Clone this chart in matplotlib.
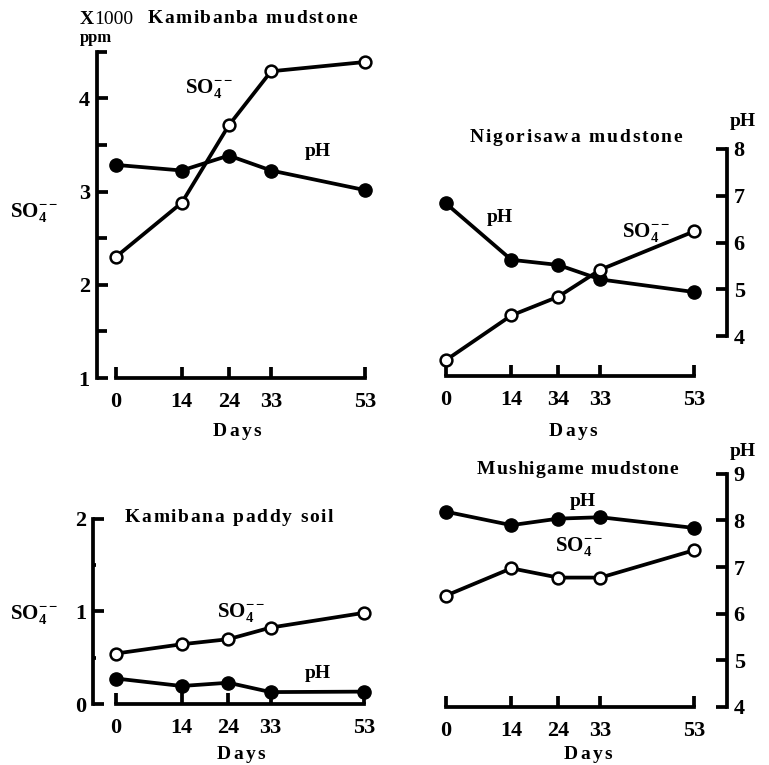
import matplotlib.pyplot as plt

# 字型：粗體襯線，近似原圖的印刷字
plt.rcParams['font.family'] = ['Liberation Serif', 'DejaVu Serif']
plt.rcParams['font.weight'] = 'bold'
plt.rcParams['mathtext.fontset'] = 'custom'
plt.rcParams['mathtext.rm'] = 'Liberation Serif:bold'
plt.rcParams['mathtext.it'] = 'Liberation Serif:bold'
plt.rcParams['mathtext.bf'] = 'Liberation Serif:bold'

# 資料
days = [0, 14, 24, 33, 53]
day_labels = ['0', '14', '24', '33', '53']
day_labels_nigorisawa = ['0', '14', '34', '33', '53']  # as printed

kamibanba_so4 = [2.30, 2.88, 3.71, 4.29, 4.39]
kamibanba_ph = [7.66, 7.54, 7.86, 7.54, 7.12]
nigorisawa_so4 = [1.20, 1.68, 1.88, 2.17, 2.58]
nigorisawa_ph = [6.84, 5.63, 5.52, 5.21, 4.94]
paddy_so4 = [0.545, 0.645, 0.70, 0.825, 0.985]
paddy_ph = [4.63, 4.47, 4.54, 4.34, 4.35]
mushigame_so4 = [1.175, 1.47, 1.37, 1.37, 1.665]
mushigame_ph = [8.19, 7.90, 8.04, 8.07, 7.84]

W, H = 769, 765
fig = plt.figure(figsize=(W / 100, H / 100), dpi=100)
LW = 2.7
TICK_FS = 16
SO4 = r'SO$_4^{--}$'


def make_panel(x_left, x_right, y_top, y_bot, day0_px, px_day, so4_ref, ph_ref):
    ax = fig.add_axes([x_left / W, 1 - y_bot / H, (x_right - x_left) / W, (y_bot - y_top) / H])
    ax.set_xlim((x_left - day0_px) / px_day, (x_right - day0_px) / px_day)
    p0, v0, k = so4_ref
    ax.set_ylim(v0 + (p0 - y_bot) / k, v0 + (p0 - y_top) / k)
    axp = ax.twinx()
    p0, v0, k = ph_ref
    axp.set_ylim(v0 + (p0 - y_bot) / k, v0 + (p0 - y_top) / k)
    for a in (ax, axp):
        for s in a.spines.values():
            s.set_visible(False)
            s.set_linewidth(LW)
        a.patch.set_visible(False)
    ax.set_zorder(axp.get_zorder() + 1)
    ax.spines['bottom'].set_visible(True)
    ax.spines['bottom'].set_bounds(0, 53)
    ax.set_xticks(days)
    ax.tick_params(axis='x', direction='in', length=8, width=LW, pad=10, labelsize=TICK_FS)
    return ax, axp


def plot_series(ax, axp, so4, ph):
    axp.plot(days, ph, color='black', lw=LW, marker='o', ms=9.5, mfc='black', mec='black',
             clip_on=False)
    ax.plot(days, so4, color='black', lw=LW, marker='o', ms=8.5, mfc='white', mec='black',
            mew=1.8, clip_on=False)


def text(x, y, s, size, **kw):
    kw.setdefault('fontweight', 'bold')
    fig.text(x / W, 1 - y / H, s, fontsize=size, **kw)


def spaced(x, y, s, size, track):
    # 字距加寬的標題
    r = fig.canvas.get_renderer()
    cx = x
    for ch in s:
        if ch == ' ':
            cx += size * 0.25 * 100 / 72 + track * 1.5
            continue
        t = fig.text(cx / W, 1 - y / H, ch, fontsize=size, fontweight='bold',
                     ha='left', va='baseline')
        cx += t.get_window_extent(r).width + track


def left_axis(ax, lo, hi, major, minor, minor_len):
    ax.spines['left'].set_visible(True)
    ax.spines['left'].set_bounds(lo, hi)
    ax.set_yticks(major)
    ax.set_yticks(minor, minor=True)
    ax.tick_params(axis='y', which='major', direction='in', length=8, width=LW, pad=5,
                   labelsize=TICK_FS)
    ax.tick_params(axis='y', which='minor', direction='in', length=minor_len, width=LW)


def right_axis(axp, lo, hi, major):
    axp.spines['right'].set_visible(True)
    axp.spines['right'].set_bounds(lo, hi)
    axp.set_yticks(major)
    axp.tick_params(axis='y', direction='in', length=8, width=LW, pad=5, labelsize=TICK_FS)


# 1. Kamibanba mudstone
ax0, ax0p = make_panel(96.7, 380, 40, 378, 116, 4.70, (379, 1, 93.5), (336, 4, 46.75))
plot_series(ax0, ax0p, kamibanba_so4, kamibanba_ph)
ax0.set_xticklabels(day_labels)
left_axis(ax0, 1, 4.5, [1, 2, 3, 4], [1.5, 2.5, 3.5, 4.5], 7)
ax0p.set_yticks([])

# 2. Nigorisawa mudstone
ax1, ax1p = make_panel(420, 726.7, 40, 376, 445.7, 4.69, (379, 1, 93.5), (336, 4, 46.75))
plot_series(ax1, ax1p, nigorisawa_so4, nigorisawa_ph)
ax1.set_xticklabels(day_labels_nigorisawa)
ax1.set_yticks([])
right_axis(ax1p, 4, 8, [4, 5, 6, 7, 8])

# 3. Kamibana paddy soil
ax2, ax2p = make_panel(93, 380, 470, 704, 116, 4.685, (705, 0, 93), (708, 4, 46.8))
plot_series(ax2, ax2p, paddy_so4, paddy_ph)
ax2.set_xticklabels(day_labels)
left_axis(ax2, 0, 2, [0, 1, 2], [0.5, 1.5], 2)
ax2p.set_yticks([])

# 4. Mushigame mudstone
ax3, ax3p = make_panel(420, 726.7, 440, 707, 445.7, 4.69, (705, 0, 93), (708, 4, 46.8))
plot_series(ax3, ax3p, mushigame_so4, mushigame_ph)
ax3.set_xticklabels(day_labels)
ax3.set_yticks([])
right_axis(ax3p, 4, 9, [4, 5, 6, 7, 8, 9])

# 標題與標籤
spaced(148, 23, 'Kamibanba mudstone', 14, 1.4)
spaced(470, 142, 'Nigorisawa mudstone', 14, 1.7)
spaced(125, 522, 'Kamibana paddy soil', 14, 1.6)
spaced(477, 474, 'Mushigame mudstone', 14, 1.0)

text(80, 24, 'X', 14, ha='left', va='baseline')
text(94, 24, '1000', 14, ha='left', va='baseline', fontweight='normal')
text(80, 38, 'ppm', 12, ha='left', va='center')
text(10, 212, SO4, 15, ha='left', va='center')
text(10, 614, SO4, 15, ha='left', va='center')
text(730, 122, 'pH', 14, ha='left', va='center')
text(730, 452, 'pH', 14, ha='left', va='center')

text(185, 88, SO4, 15, ha='left', va='center')
text(305, 151, 'pH', 14, ha='left', va='center')
text(487, 217, 'pH', 14, ha='left', va='center')
text(622, 232, SO4, 15, ha='left', va='center')
text(217, 612, SO4, 15, ha='left', va='center')
text(305, 674, 'pH', 14, ha='left', va='center')
text(570, 502, 'pH', 14, ha='left', va='center')
text(555, 547, SO4, 15, ha='left', va='center')

for cx, cy in [(237, 430), (573, 430), (241, 753), (588, 753)]:
    spaced(cx - 24, cy + 6, 'Days', 14, 2.2)

plt.savefig('out.png', dpi=100)
